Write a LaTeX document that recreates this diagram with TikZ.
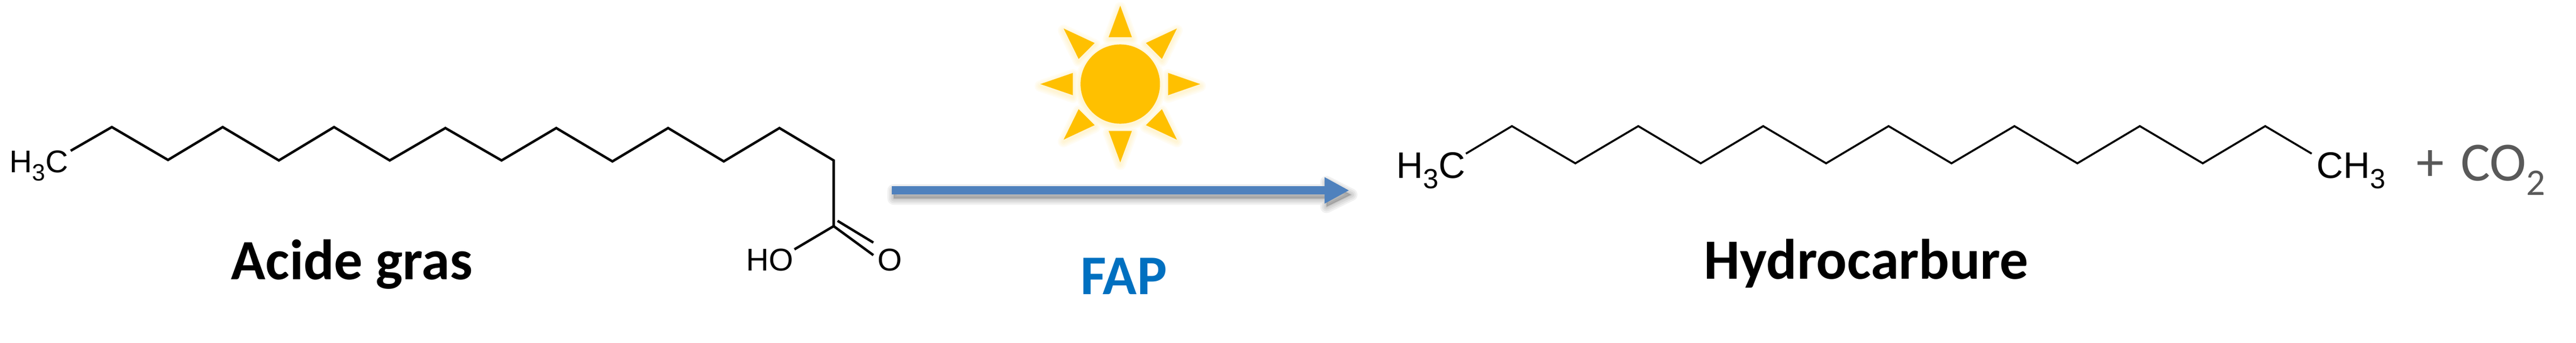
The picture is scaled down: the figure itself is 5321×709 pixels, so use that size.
\documentclass[tikz,border=0pt]{standalone}
\usepackage{graphicx}
\usepackage{fontspec}
\setmainfont{Liberation Sans}
\newfontfamily\calib{Carlito}
\usetikzlibrary{arrows.meta}
\definecolor{sunyellow}{HTML}{FFC000}
\definecolor{arrowblue}{HTML}{4F81BD}
\definecolor{fapblue}{HTML}{0070C0}
\definecolor{cotext}{HTML}{595959}
\newcommand{\lowsub}[1]{\raisebox{-0.27em}{\scalebox{0.75}{#1}}}
\newcommand{\cosub}[1]{\raisebox{-0.26em}{\scalebox{0.68}{#1}}}
\newcommand{\sunrays}{%
  (2314,12) -- (2338,77) -- (2290,77) -- cycle
  (2431,59) -- (2400,122) -- (2367,89) -- cycle
  (2479,174) -- (2413,197) -- (2413,151) -- cycle
  (2431,289) -- (2367,259) -- (2400,226) -- cycle
  (2314,336) -- (2290,271) -- (2338,271) -- cycle
  (2197,289) -- (2228,226) -- (2261,259) -- cycle
  (2149,174) -- (2216,151) -- (2216,197) -- cycle
  (2197,59) -- (2261,89) -- (2228,122) -- cycle
  (2314,174) circle[radius=82]}
\tikzset{
  x=0.02cm, y=-0.02cm,
  bondA/.style={draw=black, line width=2.9pt, line join=miter},
  bondB/.style={draw=black, line width=2.3pt, line join=miter},
  chemA/.style={inner sep=0pt, outer sep=0pt, anchor=base west, font=\fontsize{37pt}{37pt}\selectfont},
  chemB/.style={inner sep=0pt, outer sep=0pt, anchor=base west, font=\fontsize{43.5pt}{43.5pt}\selectfont},
  titlelabel/.style={inner sep=0pt, outer sep=0pt, anchor=base, text=black, font=\calib\bfseries\fontsize{67pt}{67pt}\selectfont},
  faplabel/.style={inner sep=0pt, outer sep=0pt, anchor=base, text=fapblue, font=\calib\bfseries\fontsize{66pt}{66pt}\selectfont},
  colabel/.style={inner sep=0pt, outer sep=0pt, anchor=base west, text=cotext, font=\calib\fontsize{65pt}{65pt}\selectfont},
  reaction/.style={draw=arrowblue, line width=9.64pt, -{Triangle[length=29pt,width=28.9pt]}},
  glow/.style={draw=sunyellow, fill=none, opacity=0.045, line join=round},
  smear/.style={draw=black, fill=black, opacity=0.055, line join=round}
}
\begin{document}
\begin{tikzpicture}
\useasboundingbox (0,0) rectangle (5321,709);
% sun
\foreach \w in {24,18,12,6} {\path[glow, line width=\w*0.5669pt, yshift=-0.08cm] \sunrays;}
\path[fill=sunyellow] \sunrays;
% reaction arrow shadow
\coordinate (arrstart) at (1842,394);
\coordinate (arrend) at (2787,394);
\foreach \w in {26,19,12,5} {\path[smear, line width=\w*0.5669pt] (1846,394) -- (2740,394) -- (2740,377) -- (2791,403) -- (2740,428) -- (2740,411) -- (1846,411) -- cycle;}
\draw[reaction] (arrstart) -- (arrend);
% fatty acid
\node[chemA] (lch) at (20,357) {H\lowsub{3}C};
\foreach \n/\x/\y in {0/146/312,1/231/263,2/347/331,3/460/263,4/576/332,5/690/263,6/805/332,7/920/265,8/1036/332,9/1149/265,10/1265/334,11/1380/265,12/1495/334,13/1610/265,14/1722/332,15/1722/468,16/1641/516,17/1804/528,18/1730/457,19/1804/502}
  {\coordinate (a\n) at (\x,\y);}
\draw[bondA] (a0) -- (a1) -- (a2) -- (a3) -- (a4) -- (a5) -- (a6) -- (a7) -- (a8) -- (a9) -- (a10) -- (a11) -- (a12) -- (a13) -- (a14) -- (a15) -- (a16);
\draw[bondA] (a15) -- (a17);
\draw[bondA] (a18) -- (a19);
\node[chemA] (ho) at (1541,560) {HO};
\node[chemA] (oxy) at (1813,560) {O};
\node[titlelabel] (acide) at (727,578) {Acide gras};
% label
\node[faplabel] (fap) at (2321,609) {FAP};
% hydrocarbon
\node[chemB] (lh3c) at (2885,369) {H\lowsub{3}C};
\foreach \n/\x/\y in {0/3028/318,1/3123/261,2/3254/338,3/3384/261,4/3513/338,5/3642/261,6/3772/338,7/3901/261,8/4031/338,9/4161/261,10/4291/338,11/4420/261,12/4550/338,13/4679/261,14/4775/318}
  {\coordinate (b\n) at (\x,\y);}
\draw[bondB] (b0) -- (b1) -- (b2) -- (b3) -- (b4) -- (b5) -- (b6) -- (b7) -- (b8) -- (b9) -- (b10) -- (b11) -- (b12) -- (b13) -- (b14);
\node[chemB] (rch3) at (4785,369) {CH\lowsub{3}};
\node[colabel] (plus) at (4992,374) {+};
\node[colabel] (co) at (5083,374) {CO\cosub{2}};
\node[titlelabel] (hydro) at (3855,577) {Hydrocarbure};
\end{tikzpicture}
\end{document}
